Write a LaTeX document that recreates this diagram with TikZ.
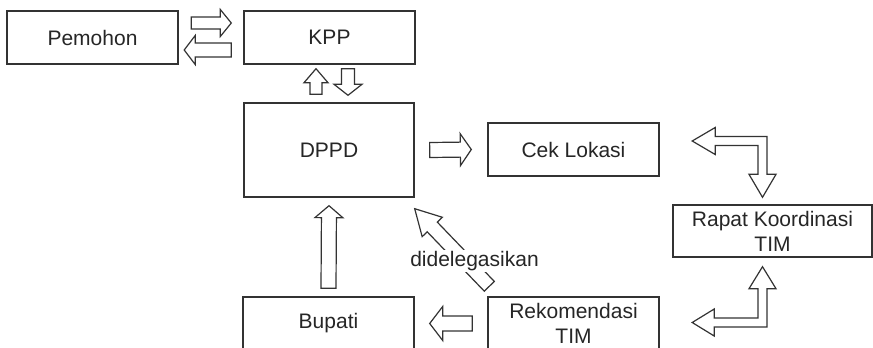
\documentclass[tikz,border=0pt]{standalone}
\usepackage{fontspec}
\setmainfont{Liberation Sans}
\usetikzlibrary{calc}
\definecolor{linegray}{HTML}{333333}
\definecolor{textgray}{HTML}{262626}
\tikzset{
  box/.style={draw=linegray, line width=1.4pt, fill=white, align=center, text=textgray, inner sep=0pt, font=\fontsize{21}{25}\selectfont},
  blockflow/.style n args={3}{draw=linegray, line width=1.2pt, fill=white, line join=miter,
    to path={let \p1=(\tikztostart), \p2=(\tikztotarget),
      \n1={atan2(\y2-\y1,\x2-\x1)}, \n2={veclen(\x2-\x1,\y2-\y1)} in
      ($(\p1)+({\n1+90}:#1)$) -- ($(\p1)+(\n1:{\n2-#3})+({\n1+90}:#1)$)
      -- ($(\p1)+(\n1:{\n2-#3})+({\n1+90}:#2)$) -- (\p2)
      -- ($(\p1)+(\n1:{\n2-#3})+({\n1-90}:#2)$) -- ($(\p1)+(\n1:{\n2-#3})+({\n1-90}:#1)$)
      -- ($(\p1)+({\n1-90}:#1)$) -- cycle}},
  elbowflow/.style n args={3}{draw=linegray, line width=1.2pt, fill=white, line join=miter,
    to path={let \p1=(\tikztostart), \p2=(\tikztotarget),
      \n3={sign(\x2-\x1)}, \n4={sign(\y2-\y1)} in
      (\p1) -- ({\x1+\n3*#3},{\y1-\n4*#2}) -- ({\x1+\n3*#3},{\y1-\n4*#1})
      -- ({\x2+\n3*#1},{\y1-\n4*#1}) -- ({\x2+\n3*#1},{\y2-\n4*#3}) -- ({\x2+\n3*#2},{\y2-\n4*#3})
      -- (\p2) -- ({\x2-\n3*#2},{\y2-\n4*#3}) -- ({\x2-\n3*#1},{\y2-\n4*#3})
      -- ({\x2-\n3*#1},{\y1+\n4*#1}) -- ({\x1+\n3*#3},{\y1+\n4*#1}) -- ({\x1+\n3*#3},{\y1+\n4*#2}) -- cycle}}
}

\begin{document}
\begin{tikzpicture}[x=1pt,y=1pt]
  \useasboundingbox (0,0) rectangle (873,-348);
  \clip (0,0) rectangle (873,-348);

  \node[box, minimum width=171pt, minimum height=53pt] (pemohon) at (92.5,-37.5) {Pemohon};
  \node[box, minimum width=171pt, minimum height=53pt] (kpp) at (329.5,-37.5) {KPP};
  \node[box, minimum width=170pt, minimum height=94pt] (dppd) at (329,-150) {DPPD};
  \node[box, minimum width=171pt, minimum height=53pt] (cek) at (573.5,-149.5) {Cek Lokasi};
  \node[box, minimum width=199pt, minimum height=52pt] (rapat) at (772.5,-231) {Rapat Koordinasi\\TIM};
  \node[box, minimum width=171pt, minimum height=53pt] (bupati) at (328.5,-323.5) {Bupati};
  \node[box, minimum width=171pt, minimum height=53pt] (rekom) at (573.5,-323.5) {Rekomendasi\\TIM};

  % pemohon <-> kpp
  \draw[blockflow={6}{13.5}{11}] ([shift={(12.5,14.5)}]pemohon.east) to ([shift={(-12,14.5)}]kpp.west);
  \draw[blockflow={7}{14.5}{11}] ([shift={(-12,-12.5)}]kpp.west) to ([shift={(5.5,-12.5)}]pemohon.east);

  % kpp <-> dppd
  \draw[blockflow={6}{12}{14}] ([shift={(-13,8)}]dppd.north) to ([shift={(-13.5,-4)}]kpp.south);
  \draw[blockflow={6.5}{14}{11}] ([shift={(18.5,-4)}]kpp.south) to ([shift={(19,7)}]dppd.north);

  \draw[blockflow={7.5}{16}{11}] ([xshift=15]dppd.east) to ([xshift=-16]cek.west);
  \draw[blockflow={7.5}{14}{12}] ([yshift=8]bupati.north) to ([yshift=-8]dppd.south);
  \draw[blockflow={7.5}{17}{13}] ([xshift=-15]rekom.west) to ([xshift=15]bupati.east);
  \draw[blockflow={7}{14}{25}] ([shift={(2,10)}]rekom.north west) to ([yshift=-11]dppd.south east);

  % rapat koordinasi
  \draw[elbowflow={4.5}{13.5}{23}] ([shift={(32.5,8.5)}]cek.east) to ([shift={(-10,7)}]rapat.north);
  \draw[elbowflow={4.5}{13.5}{22}] ([shift={(32.5,1)}]rekom.east) to ([shift={(-10,-9)}]rapat.south);

  \node[fill=white, inner sep=1pt, text=textgray, font=\fontsize{21}{25}\selectfont] (delegasi) at (474.5,-261) {didelegasikan};
\end{tikzpicture}
\end{document}
